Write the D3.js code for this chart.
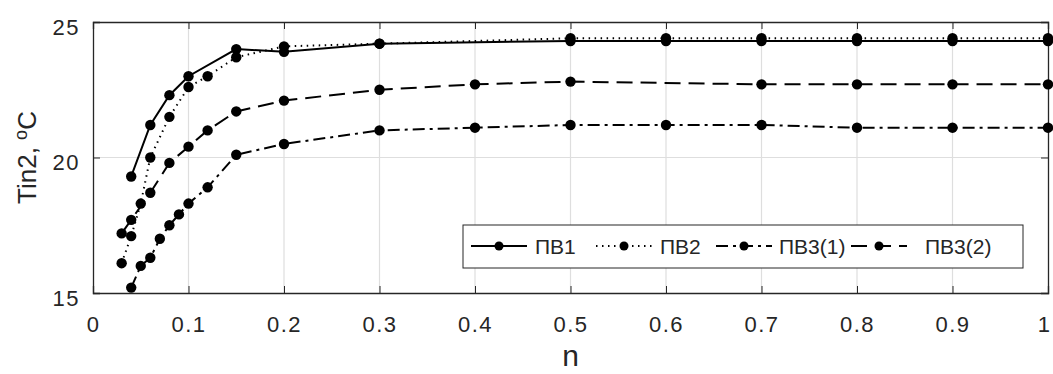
<!DOCTYPE html>
<html>
<head>
<meta charset="utf-8">
<script src="https://cdn.jsdelivr.net/npm/d3@7"></script>
<style>
  body { margin: 0; background: #fff; }
  text { font-family: "Liberation Sans", Arial, sans-serif; fill: #262626; }
</style>
</head>
<body>
<div id="chart"></div>
<script>
// data
const pv1N = [0.04, 0.06, 0.08, 0.1, 0.15, 0.2, 0.3, 0.5, 0.6, 0.7, 0.8, 0.9, 1.0];
const pv1T = [19.3, 21.2, 22.3, 23.0, 24.0, 23.9, 24.2, 24.3, 24.3, 24.3, 24.3, 24.3, 24.3];

const pv2N = [0.03, 0.04, 0.05, 0.06, 0.08, 0.1, 0.12, 0.15, 0.2, 0.3, 0.5, 0.6, 0.7, 0.8, 0.9, 1.0];
const pv2T = [16.1, 17.1, 18.3, 20.0, 21.5, 22.6, 23.0, 23.7, 24.1, 24.2, 24.4, 24.4, 24.4, 24.4, 24.4, 24.4];

const pv31N = [0.04, 0.05, 0.06, 0.07, 0.08, 0.09, 0.1, 0.12, 0.15, 0.2, 0.3, 0.4, 0.5, 0.6, 0.7, 0.8, 0.9, 1.0];
const pv31T = [15.2, 16.0, 16.3, 17.0, 17.5, 17.9, 18.3, 18.9, 20.1, 20.5, 21.0, 21.1, 21.2, 21.2, 21.2, 21.1, 21.1, 21.1];

const pv32N = [0.03, 0.04, 0.06, 0.08, 0.1, 0.12, 0.15, 0.2, 0.3, 0.4, 0.5, 0.7, 0.8, 0.9, 1.0];
const pv32T = [17.2, 17.7, 18.7, 19.8, 20.4, 21.0, 21.7, 22.1, 22.5, 22.7, 22.8, 22.7, 22.7, 22.7, 22.7];

const xTicks = [0, 0.1, 0.2, 0.3, 0.4, 0.5, 0.6, 0.7, 0.8, 0.9, 1];
const yTicks = [15, 20, 25];

const seriesNames = ['ПВ1', 'ПВ2', 'ПВ3(1)', 'ПВ3(2)'];
const dashes = [null, '1.5,4.5', '12,5,3,5', '16,8'];

const series = [
    {name: seriesNames[0], n: pv1N, t: pv1T, dash: dashes[0]},
    {name: seriesNames[1], n: pv2N, t: pv2T, dash: dashes[1]},
    {name: seriesNames[2], n: pv31N, t: pv31T, dash: dashes[2]},
    {name: seriesNames[3], n: pv32N, t: pv32T, dash: dashes[3]}
];

const width = 1053, height = 374;
const margin = {left: 93, right: 5, top: 22, bottom: 81};

const svg = d3.select('#chart').append('svg')
    .attr('width', width)
    .attr('height', height);

const x = d3.scaleLinear().domain([0, 1]).range([margin.left, width - margin.right]);
const y = d3.scaleLinear().domain([15, 25]).range([height - margin.bottom, margin.top]);

// grid
svg.append('g')
    .selectAll('line')
    .data(xTicks.slice(1, -1))
    .enter().append('line')
    .attr('x1', d => x(d)).attr('x2', d => x(d))
    .attr('y1', y(15)).attr('y2', y(25))
    .attr('stroke', '#dedede').attr('stroke-width', 1.2);

svg.append('g')
    .selectAll('line')
    .data(yTicks.slice(1, -1))
    .enter().append('line')
    .attr('x1', x(0)).attr('x2', x(1))
    .attr('y1', d => y(d)).attr('y2', d => y(d))
    .attr('stroke', '#dedede').attr('stroke-width', 1.2);

// axes, ticks inward (box on all sides)
svg.append('g')
    .attr('class', 'xaxis')
    .attr('transform', 'translate(0,' + y(15) + ')')
    .call(d3.axisBottom(x).tickValues(xTicks).tickFormat(d3.format('')).tickSize(-7).tickPadding(23));
svg.append('g')
    .attr('transform', 'translate(0,' + y(25) + ')')
    .call(d3.axisTop(x).tickValues(xTicks).tickFormat('').tickSize(-7));
svg.append('g')
    .attr('class', 'yaxis')
    .attr('transform', 'translate(' + x(0) + ',0)')
    .call(d3.axisLeft(y).tickValues(yTicks).tickSize(-7).tickPadding(13));
svg.append('g')
    .attr('transform', 'translate(' + x(1) + ',0)')
    .call(d3.axisRight(y).tickValues(yTicks).tickFormat('').tickSize(-7));

svg.selectAll('.domain').attr('stroke', '#262626').attr('stroke-width', 1.3);
svg.selectAll('.tick line').attr('stroke', '#262626');
svg.selectAll('.tick text')
    .style('font-size', '22px')
    .style('letter-spacing', '1.5px')
    .style('font-family', '"Liberation Sans", Arial, sans-serif')
    .attr('fill', '#262626');
svg.selectAll('.yaxis .tick text').attr('dy', '0.55em');
// keep the last x label inside the window
svg.selectAll('.xaxis .tick text').filter(d => d === 1).attr('dx', -4);

// axis labels
svg.append('text')
    .attr('x', x(0.5)).attr('y', 366)
    .attr('text-anchor', 'middle')
    .style('font-size', '30px')
    .text('n');

svg.append('text')
    .attr('transform', 'translate(36,' + (y(20)) + ') rotate(-90)')
    .attr('text-anchor', 'middle')
    .style('font-size', '26px')
    .html('Tin2, <tspan dy="-9" font-size="18px">o</tspan><tspan dy="9">C</tspan>');

// lines and markers
const line = d3.line().x(d => x(d[0])).y(d => y(d[1]));
const plot = svg.append('g');

series.forEach(s => {
    const pts = s.n.map((v, i) => [v, s.t[i]]);
    plot.append('path')
        .datum(pts)
        .attr('d', line)
        .attr('fill', 'none')
        .attr('stroke', '#000')
        .attr('stroke-width', 2)
        .attr('stroke-dasharray', s.dash);
    plot.selectAll(null)
        .data(pts)
        .enter().append('circle')
        .attr('cx', d => x(d[0]))
        .attr('cy', d => y(d[1]))
        .attr('r', 5.2)
        .attr('fill', '#000');
});

// legend
const legend = svg.append('g');
legend.append('rect')
    .attr('x', 463).attr('y', 225)
    .attr('width', 560).attr('height', 43)
    .attr('fill', '#fff')
    .attr('stroke', '#262626').attr('stroke-width', 1);

const legX = [471, 596, 716, 851];
const legTextX = [535, 660, 779, 925];
series.forEach((s, i) => {
    const g = legend.append('g');
    g.append('line')
        .attr('x1', legX[i]).attr('x2', legX[i] + 56)
        .attr('y1', 246).attr('y2', 246)
        .attr('stroke', '#000').attr('stroke-width', 2)
        .attr('stroke-dasharray', s.dash);
    g.append('circle')
        .attr('cx', legX[i] + 28).attr('cy', 246).attr('r', 4.5)
        .attr('fill', '#000');
    g.append('text')
        .attr('x', legTextX[i]).attr('y', 254)
        .style('font-size', '21px')
        .text(s.name);
});
</script>
</body>
</html>
